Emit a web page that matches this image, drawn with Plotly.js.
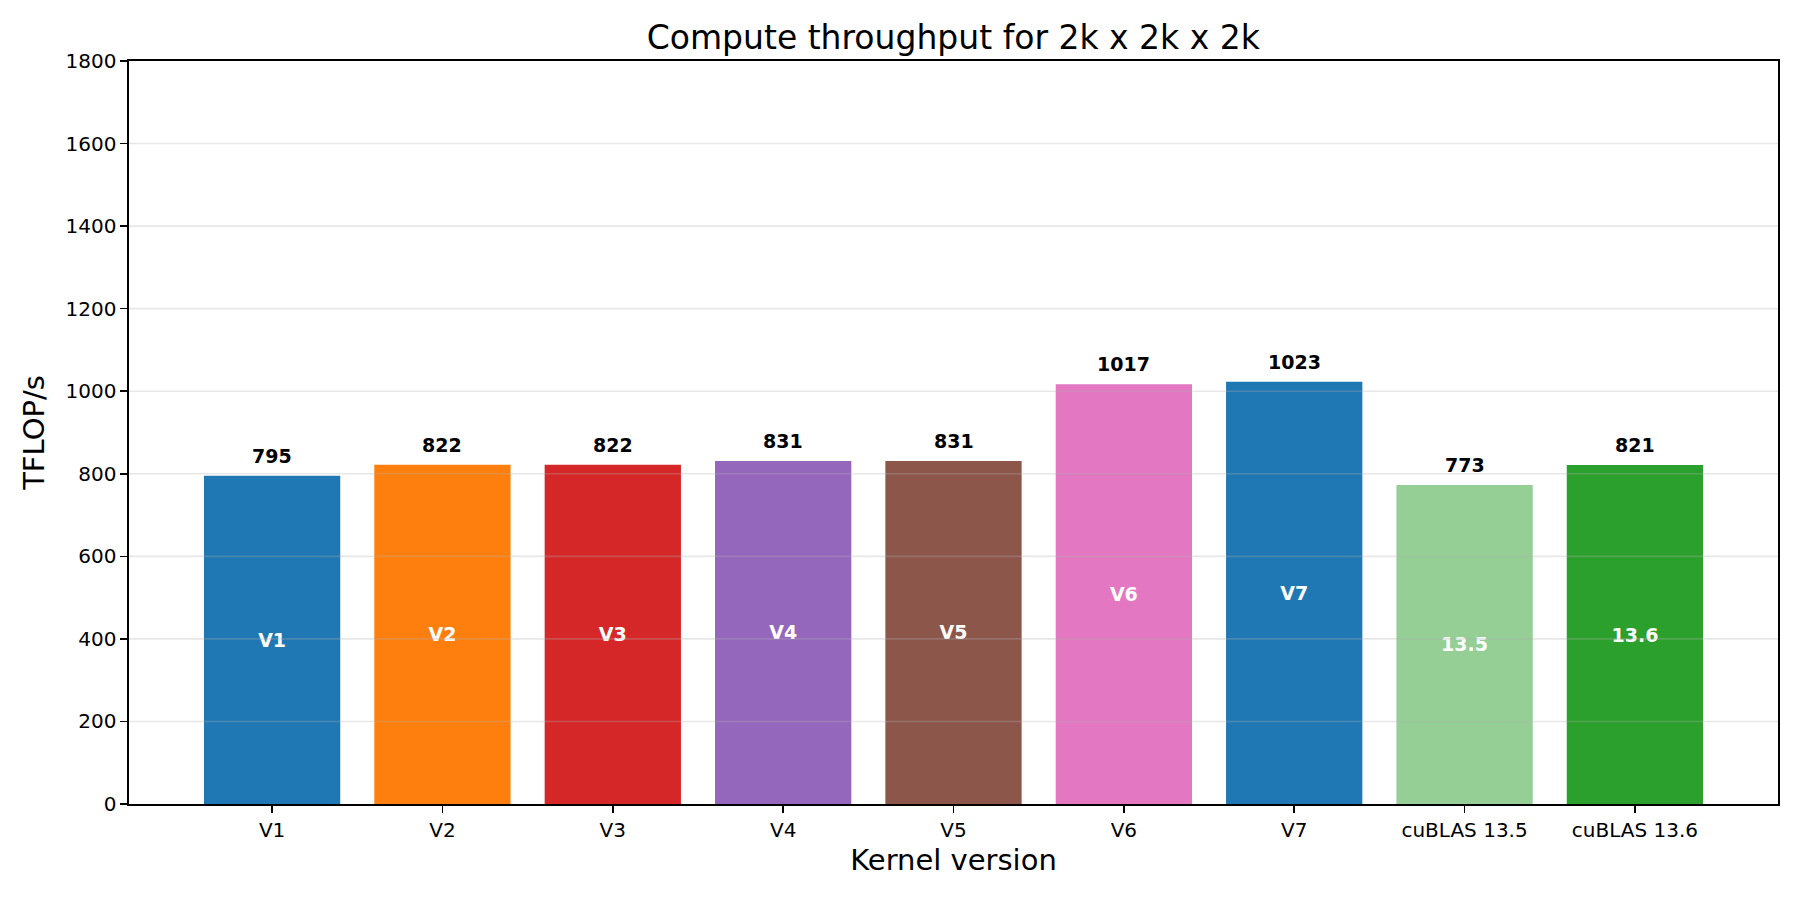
<!DOCTYPE html>
<html>
<head>
<meta charset="utf-8">
<script src="https://cdn.plot.ly/plotly-3.0.1.min.js"></script>
<style>html,body{margin:0;padding:0;background:#fff;}#chart{width:1800px;height:900px;}</style>
</head>
<body>
<div id="chart"></div>
<script>
const categories = ["V1","V2","V3","V4","V5","V6","V7","cuBLAS 13.5","cuBLAS 13.6"];
const throughput = [795, 822, 822, 831, 831, 1017, 1023, 773, 821];
const insideLabels = ["V1","V2","V3","V4","V5","V6","V7","13.5","13.6"];
const barColors = ["#1f77b4","#ff7f0e","#d62728","#9467bd","#8c564b","#e377c2","#1f77b4","rgba(44,160,44,0.5)","#2ca02c"];
const yTicks = [0,200,400,600,800,1000,1200,1400,1600,1800];

const font = "DejaVu Sans, Verdana, sans-serif";

const trace = {
  type: "bar",
  x: categories,
  y: throughput,
  width: 0.8,
  marker: {color: barColors, line: {width: 0}},
  text: insideLabels,
  textposition: "inside",
  insidetextanchor: "middle",
  textangle: 0,
  constraintext: "none",
  insidetextfont: {family: font, size: 19, color: "#ffffff", weight: "bold"},
  hoverinfo: "x+y"
};

const annotations = categories.map((c, i) => ({
  x: c, y: throughput[i], xref: "x", yref: "y",
  text: "<b>" + throughput[i] + "</b>",
  showarrow: false, yanchor: "bottom", yshift: 7,
  font: {family: font, size: 19, color: "#000000"}
}));

const gridShapes = yTicks.filter(v => v > 0 && v < 1800).map(v => ({
  type: "line", xref: "paper", yref: "y", x0: 0, x1: 1, y0: v, y1: v,
  line: {color: "rgba(176,176,176,0.3)", width: 1.6}, layer: "above"
}));

const layout = {
  width: 1800, height: 900,
  margin: {l: 129, r: 22, t: 61, b: 96, pad: 0},
  paper_bgcolor: "#ffffff", plot_bgcolor: "#ffffff",
  font: {family: font, color: "#000000"},
  title: {text: "Compute throughput for 2k x 2k x 2k", x: 0.5296, xanchor: "center", y: 0.958, yanchor: "middle",
          font: {family: font, size: 33, color: "#000000"}},
  showlegend: false,
  bargap: 0.2,
  xaxis: {
    type: "category",
    range: [-0.84, 8.84],
    showgrid: false, zeroline: false,
    showline: true, mirror: true, linecolor: "#000000", linewidth: 1.6,
    ticks: "outside", ticklen: 7, tickwidth: 1.6, tickcolor: "#000000",
    tickfont: {family: font, size: 20, color: "#000000"},
    title: {text: "Kernel version", font: {family: font, size: 29, color: "#000000"}, standoff: 9}
  },
  yaxis: {
    range: [0, 1800],
    tickvals: yTicks,
    ticktext: yTicks.map(String),
    showgrid: false, zeroline: false,
    showline: true, mirror: true, linecolor: "#000000", linewidth: 1.6,
    ticks: "outside", ticklen: 7, tickwidth: 1.6, tickcolor: "#000000",
    tickfont: {family: font, size: 20, color: "#000000"},
    title: {text: "TFLOP/s", font: {family: font, size: 29, color: "#000000"}, standoff: 12}
  },
  annotations: annotations,
  shapes: gridShapes
};

Plotly.newPlot("chart", [trace], layout, {displayModeBar: false, staticPlot: true});
</script>
</body>
</html>
